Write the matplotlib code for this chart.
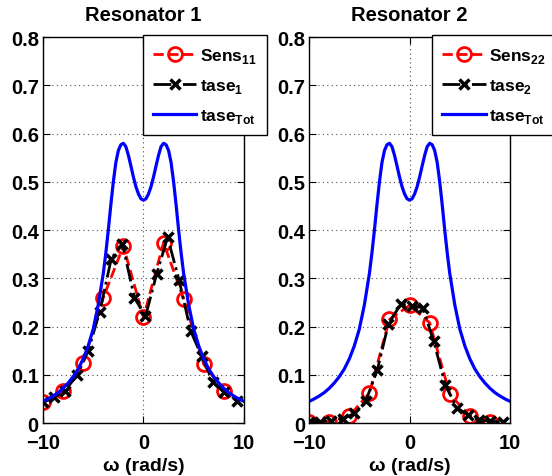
import matplotlib
matplotlib.use("Agg")
import matplotlib.pyplot as plt

plt.rcParams['font.family'] = ['Liberation Sans', 'DejaVu Sans']
plt.rcParams['font.weight'] = 'bold'
plt.rcParams['mathtext.fontset'] = 'custom'
plt.rcParams['mathtext.bf'] = 'Liberation Sans:bold'
plt.rcParams['mathtext.rm'] = 'Liberation Sans:bold'

# total response (same on both panels)
w_tot = [-10, -9.5, -9, -8.5, -8, -7.5, -7, -6.5, -6, -5.5, -5, -4.5, -4, -3.75,
         -3.5, -3.25, -3, -2.75, -2.5, -2.25, -2, -1.75, -1.5, -1.25, -1, -0.75,
         -0.5, -0.25, 0, 0.25, 0.5, 0.75, 1, 1.25, 1.5, 1.75, 2, 2.25, 2.5, 2.75,
         3, 3.25, 3.5, 3.75, 4, 4.5, 5, 5.5, 6, 6.5, 7, 7.5, 8, 8.5, 9, 9.5, 10]
tase_tot = [0.045, 0.050, 0.056, 0.063, 0.072, 0.083, 0.096, 0.112, 0.133, 0.160,
            0.195, 0.245, 0.310, 0.352, 0.400, 0.452, 0.500, 0.540, 0.565, 0.577,
            0.580, 0.573, 0.555, 0.533, 0.510, 0.490, 0.475, 0.465, 0.462, 0.465,
            0.475, 0.490, 0.510, 0.533, 0.555, 0.573, 0.580, 0.577, 0.565, 0.540,
            0.500, 0.452, 0.400, 0.352, 0.310, 0.245, 0.195, 0.160, 0.133, 0.112,
            0.096, 0.083, 0.072, 0.063, 0.056, 0.050, 0.045]

# sensitivities (circles)
w_sens = [-10, -8, -6, -4, -2, 0, 2, 4, 6, 8]
sens_11 = [0.043, 0.067, 0.124, 0.260, 0.367, 0.219, 0.374, 0.257, 0.122, 0.066]
sens_22 = [0.003, 0.003, 0.015, 0.062, 0.215, 0.244, 0.208, 0.060, 0.014, 0.003]

# estimates (crosses)
w_tase = [-10, -8.9, -7.8, -6.6, -5.5, -4.35, -3.2, -2.1, -0.9, 0.2, 1.3, 2.4,
          3.55, 4.7, 5.8, 6.9, 8.05, 9.3]
tase_1 = [0.043, 0.053, 0.067, 0.100, 0.150, 0.231, 0.341, 0.372, 0.260, 0.221,
          0.308, 0.385, 0.296, 0.191, 0.138, 0.086, 0.064, 0.046]
tase_2 = [0.003, 0.003, 0.005, 0.009, 0.020, 0.046, 0.111, 0.206, 0.246, 0.243,
          0.239, 0.170, 0.079, 0.032, 0.017, 0.006, 0.004, 0.002]

panels = [
    ("Resonator 1", sens_11, tase_1, r'Sens$_{\mathbf{11}}$', r'tase$_{\mathbf{1}}$', 0.0779, 0.496),
    ("Resonator 2", sens_22, tase_2, r'Sens$_{\mathbf{22}}$', r'tase$_{\mathbf{2}}$', 0.560, 0.61),
]

fig = plt.figure(figsize=(5.52, 4.77), dpi=100)

for title, sens, tase, lab_s, lab_t, left, legx in panels:
    ax = fig.add_axes([left, 0.111, 0.364, 0.809])
    ax.plot(w_sens, sens, color='red', linestyle='--', linewidth=2,
            marker='o', markersize=10, markerfacecolor='none',
            markeredgewidth=2, label=lab_s)
    ax.plot(w_tase, tase, color='black', linestyle='-.', linewidth=2,
            marker='x', markersize=7, markeredgewidth=2.5, label=lab_t)
    ax.plot(w_tot, tase_tot, color='#0000ff', linewidth=2.3,
            label=r'tase$_{\mathbf{Tot}}$')

    ax.set_xlim(-10, 10)
    ax.set_ylim(0, 0.8)
    ax.set_xticks([-10, 0, 10])
    ax.set_yticks([0, 0.1, 0.2, 0.3, 0.4, 0.5, 0.6, 0.7, 0.8])
    ax.set_yticklabels(['0', '0.1', '0.2', '0.3', '0.4', '0.5', '0.6', '0.7', '0.8'])
    ax.tick_params(direction='in', top=True, right=True, length=5,
                   labelsize=14.5)
    ax.tick_params(axis='x', pad=7)
    ax.tick_params(axis='y', pad=3)
    ax.grid(True, linestyle=(0, (1, 3)), color='0.3', linewidth=0.8)
    for s in ax.spines.values():
        s.set_linewidth(1.0)
    ax.set_title(title, fontsize=14.5, fontweight='bold', pad=12)
    ax.set_xlabel(u'\u03c9 (rad/s)', fontsize=14, fontweight='bold', labelpad=4)

    leg = ax.legend(loc='upper left', bbox_to_anchor=(legx, 1.005),
                    prop={'weight': 'bold', 'size': 12.5}, fancybox=False,
                    framealpha=1, edgecolor='black', handlelength=2.5,
                    borderpad=0.6, labelspacing=0.7, handletextpad=0.2,
                    borderaxespad=0)
    leg.get_frame().set_linewidth(1.0)
    leg.set_zorder(10)

fig.savefig('out.png', dpi=100)
